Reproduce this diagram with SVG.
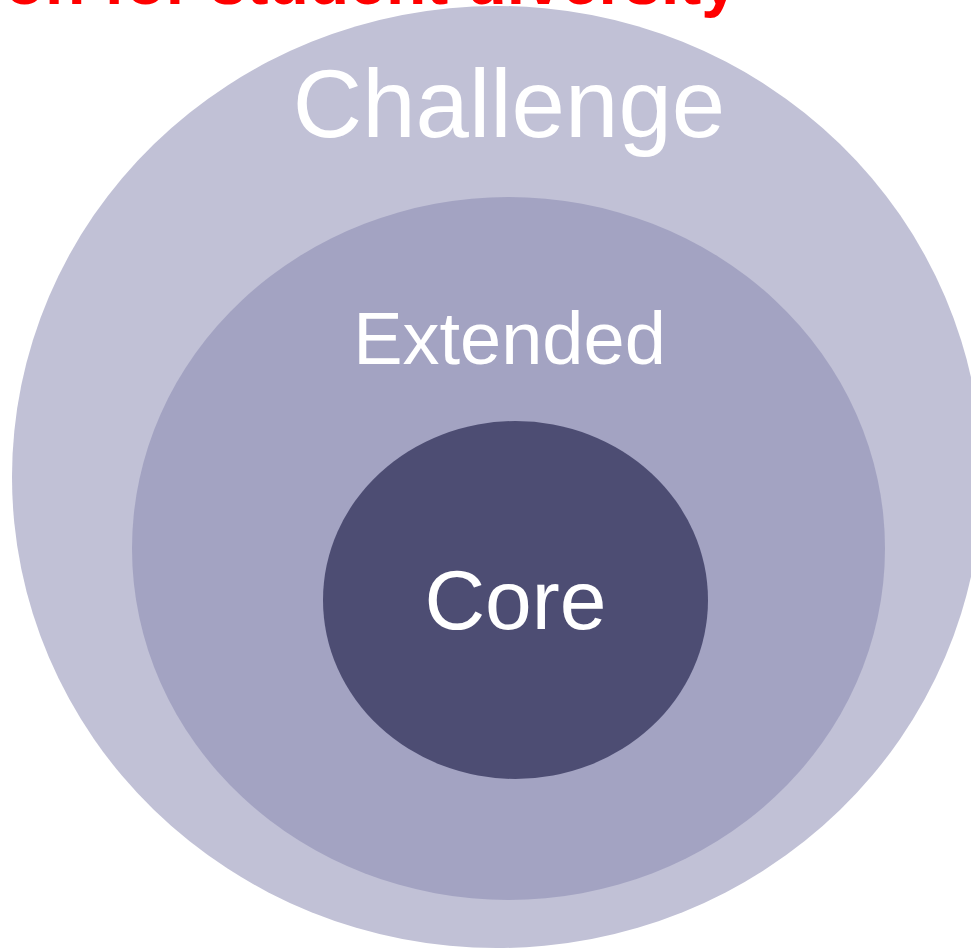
<svg xmlns="http://www.w3.org/2000/svg" width="971" height="949" viewBox="0 0 971 949">
<style>
.lbl{font-family:"Liberation Sans",Arial,sans-serif;fill:#ffffff;text-anchor:middle}
.title{font-family:"Liberation Sans",Arial,sans-serif;font-weight:bold;fill:#ff0000;text-anchor:end}
</style>
<rect width="971" height="949" fill="#ffffff"/>
<text class="title" x="738" y="4" font-size="66">Differentiation for student diversity</text>
<g id="challenge">
<ellipse cx="497" cy="477" rx="485" ry="471" fill="#c1c1d6"/>
<text class="lbl" x="509" y="137" font-size="96">Challenge</text>
</g>
<g id="extended">
<ellipse cx="508.5" cy="548.5" rx="376.5" ry="351.5" fill="#a3a3c2"/>
<text class="lbl" x="509.5" y="364" font-size="74">Extended</text>
</g>
<g id="core">
<ellipse cx="515.5" cy="600" rx="192.5" ry="179" fill="#4d4d73"/>
<text class="lbl" x="515.5" y="629" font-size="84">Core</text>
</g>
<g id="connectors"/>
</svg>
